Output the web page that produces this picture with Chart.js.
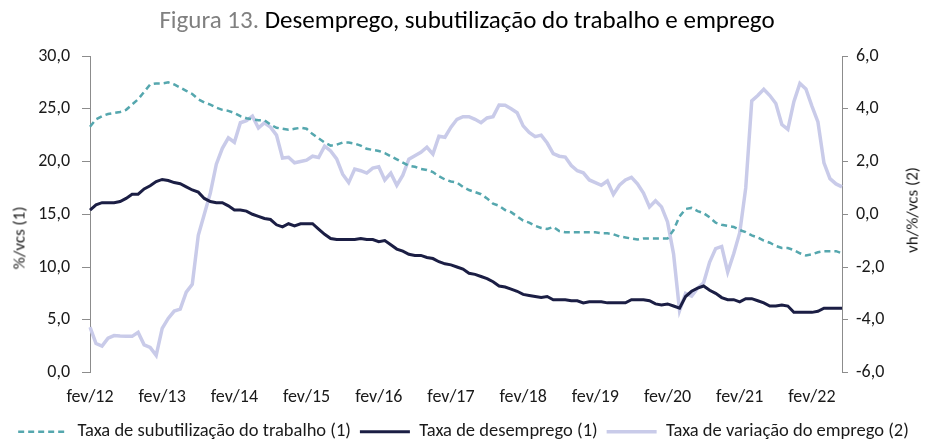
<!DOCTYPE html>
<html>
<head>
<meta charset="utf-8">
<script src="https://cdn.jsdelivr.net/npm/chart.js@4"></script>
<style>
  body { margin: 0; background: #fff; }
  #wrap { position: relative; width: 927px; height: 441px; font-family: Carlito, Lato, sans-serif; }
  #title {
    position: absolute; top: 4px; left: 0; width: 934px; text-align: center;
    font-size: 25px; color: #000; white-space: nowrap;
  }
  #title .num { color: #808080; }
  .ytitle {
    position: absolute; font-size: 17px; color: #1a1a1a; white-space: nowrap;
    transform: translate(-50%, -50%) rotate(-90deg);
  }
  #yl { left: 19px; top: 238px; }
  #yr { left: 912px; top: 210px; }
</style>
</head>
<body>
<div id="wrap">
  <canvas id="chart" width="927" height="441"></canvas>
  <div id="title"><span class="num">Figura 13.</span> Desemprego, subutilização do trabalho e emprego</div>
  <div class="ytitle" id="yl">%/vcs (1)</div>
  <div class="ytitle" id="yr">vh/%/vcs (2)</div>
</div>
<script>
// months fev/12 .. jul/22
const monthNames = ["jan", "fev", "mar", "abr", "mai", "jun", "jul", "ago", "set", "out", "nov", "dez"];
const labels = [];
for (let k = 0; k < 126; k++) {
    const m = (1 + k) % 12;
    const y = 12 + Math.floor((1 + k) / 12);
    labels.push(monthNames[m] + "/" + y);
}

// ===== Series =====
const subutilizacao = [
    23.3, 24.0, 24.3, 24.5, 24.6, 24.7, 24.9, 25.4, 25.9, 26.6, 27.3, 27.4,
    27.4, 27.5, 27.3, 27.0, 26.7, 26.4, 25.9, 25.6, 25.4, 25.1, 24.9, 24.8,
    24.6, 24.3, 24.1, 24.0, 23.9, 23.9, 23.5, 23.2, 23.1, 23.0, 23.1, 23.2,
    23.1, 22.6, 22.2, 21.8, 21.5, 21.6, 21.8, 21.8, 21.7, 21.5, 21.2, 21.1,
    21.0, 20.8, 20.5, 20.2, 19.9, 19.6, 19.5, 19.3, 19.2, 19.0, 18.6, 18.3,
    18.1, 18.0, 17.6, 17.3, 17.1, 16.9, 16.5, 16.0, 15.8, 15.4, 15.2, 14.8,
    14.4, 14.2, 13.9, 13.7, 13.6, 13.8, 13.4, 13.3, 13.3, 13.3, 13.3, 13.3,
    13.3, 13.2, 13.2, 13.1, 12.9, 12.8, 12.7, 12.6, 12.7, 12.7, 12.7, 12.7,
    12.7, 13.5, 14.8, 15.5, 15.6, 15.3, 15.1, 14.7, 14.2, 14.0, 13.9, 13.8,
    13.5, 13.3, 13.0, 12.8, 12.5, 12.3, 12.0, 11.8, 11.8, 11.6, 11.3, 11.1,
    11.2, 11.4, 11.5, 11.5, 11.5, 11.3
];

const desemprego = [
    15.4, 15.9, 16.1, 16.1, 16.1, 16.2, 16.5, 16.9, 16.9, 17.4, 17.7, 18.1,
    18.3, 18.2, 18.0, 17.9, 17.6, 17.3, 17.1, 16.5, 16.2, 16.1, 16.1, 15.8,
    15.4, 15.4, 15.3, 15.0, 14.8, 14.6, 14.5, 14.0, 13.8, 14.1, 13.9, 14.1,
    14.1, 14.1, 13.6, 13.1, 12.7, 12.6, 12.6, 12.6, 12.6, 12.7, 12.6, 12.6,
    12.4, 12.5, 12.1, 11.7, 11.5, 11.2, 11.1, 11.1, 10.9, 10.8, 10.5, 10.3,
    10.2, 10.0, 9.8, 9.4, 9.3, 9.1, 8.9, 8.6, 8.2, 8.1, 7.9, 7.7,
    7.4, 7.3, 7.2, 7.1, 7.2, 6.9, 6.9, 6.9, 6.8, 6.8, 6.6, 6.7,
    6.7, 6.7, 6.6, 6.6, 6.6, 6.6, 6.9, 6.9, 6.9, 6.8, 6.5, 6.4,
    6.5, 6.3, 6.1, 7.2, 7.7, 8.0, 8.2, 7.8, 7.5, 7.1, 6.9, 6.9,
    6.7, 7.0, 7.0, 6.8, 6.6, 6.3, 6.3, 6.4, 6.3, 5.7, 5.7, 5.7,
    5.7, 5.8, 6.1, 6.1, 6.1, 6.1
];

const variacaoEmprego = [
    -4.28, -4.9, -5.0, -4.7, -4.6, -4.62, -4.63, -4.63, -4.48, -4.95, -5.05, -5.35,
    -4.33, -3.95, -3.67, -3.6, -2.95, -2.66, -0.8, 0.0, 0.8, 1.9, 2.5, 2.9,
    2.73, 3.47, 3.55, 3.72, 3.27, 3.47, 3.3, 3.0, 2.13, 2.16, 1.95, 2.0,
    2.05, 2.2, 2.15, 2.58, 2.4, 2.1, 1.52, 1.2, 1.71, 1.65, 1.56, 1.75,
    1.8, 1.3, 1.56, 1.1, 1.48, 2.09, 2.22, 2.35, 2.54, 2.28, 2.96, 2.92,
    3.3, 3.6, 3.7, 3.7, 3.6, 3.47, 3.65, 3.7, 4.14, 4.13, 4.0, 3.85,
    3.35, 3.1, 2.94, 3.0, 2.7, 2.3, 2.2, 2.17, 1.85, 1.65, 1.57, 1.3,
    1.2, 1.1, 1.26, 0.75, 1.1, 1.3, 1.4, 1.15, 0.8, 0.28, 0.51, 0.28,
    -0.29, -1.5, -3.65, -3.0, -3.1, -2.8, -2.6, -1.81, -1.3, -1.22, -2.19, -1.5,
    -0.7, 1.0, 4.3, 4.5, 4.74, 4.5, 4.2, 3.4, 3.22, 4.27, 4.96, 4.75,
    4.1, 3.5, 1.95, 1.35, 1.15, 1.04
];

const FONT = "Carlito, Lato, sans-serif";
const TEXT = "#1a1a1a";
const AXIS = "#8c8c8c";

function fmt(v) {
    return v.toFixed(1).replace(".", ",");
}

new Chart(document.getElementById("chart"), {
    type: "line",
    data: {
        labels: labels,
        datasets: [
            {
                label: "Taxa de subutilização do trabalho (1)",
                data: subutilizacao,
                yAxisID: "y",
                borderColor: "#55a7ae",
                backgroundColor: "#55a7ae",
                borderWidth: 2.5,
                borderDash: [6, 4],
                pointRadius: 0,
                tension: 0
            },
            {
                label: "Taxa de desemprego (1)",
                data: desemprego,
                yAxisID: "y",
                borderColor: "#1b1e44",
                backgroundColor: "#1b1e44",
                borderWidth: 3,
                pointRadius: 0,
                tension: 0
            },
            {
                label: "Taxa de variação do emprego (2)",
                data: variacaoEmprego,
                yAxisID: "y1",
                borderColor: "#c9cbe9",
                backgroundColor: "#c9cbe9",
                borderWidth: 3.5,
                pointRadius: 0,
                tension: 0
            }
        ]
    },
    options: {
        responsive: false,
        animation: false,
        layout: { padding: { top: 56, left: 0, right: 0, bottom: -10 } },
        plugins: {
            tooltip: { enabled: false },
            legend: {
                position: "bottom",
                labels: {
                    usePointStyle: true,
                    pointStyle: "line",
                    pointStyleWidth: 50,
                    padding: 9,
                    color: TEXT,
                    font: { family: FONT, size: 18.5 },
                    // keep dash + width of each dataset in the legend line
                    generateLabels: (chart) => {
                        const items = Chart.defaults.plugins.legend.labels.generateLabels(chart);
                        items.forEach((it) => {
                            const ds = chart.data.datasets[it.datasetIndex];
                            it.lineDash = ds.borderDash || [];
                            it.lineWidth = ds.borderWidth;
                            it.strokeStyle = ds.borderColor;
                        });
                        return items;
                    }
                }
            }
        },
        scales: {
            x: {
                afterFit: (s) => { s.height = 41; },
                ticks: {
                    autoSkip: false,
                    maxRotation: 0,
                    color: TEXT,
                    font: { family: FONT, size: 18 },
                    padding: 14,
                    callback: function (val, idx) {
                        return idx % 12 === 0 ? this.getLabelForValue(val) : null;
                    }
                },
                grid: {
                    drawTicks: false,
                    color: (ctx) => (ctx.index % 12 === 0 ? "#d9d9d9" : "rgba(0,0,0,0)")
                },
                border: { display: false }
            },
            y: {
                position: "left",
                min: 0,
                max: 30,
                afterFit: (s) => { s.width = 90; },
                ticks: {
                    stepSize: 5,
                    color: TEXT,
                    font: { family: FONT, size: 18 },
                    padding: 12,
                    callback: (v) => fmt(v)
                },
                grid: { drawOnChartArea: false, tickLength: 8, color: AXIS },
                border: { display: true, color: AXIS }
            },
            y1: {
                position: "right",
                min: -6,
                max: 6,
                afterFit: (s) => { s.width = 85; },
                ticks: {
                    stepSize: 2,
                    color: TEXT,
                    font: { family: FONT, size: 18 },
                    padding: 8,
                    callback: (v) => fmt(v)
                },
                grid: { drawOnChartArea: false, tickLength: 6, color: AXIS },
                border: { display: true, color: AXIS }
            }
        }
    }
});
</script>
</body>
</html>
